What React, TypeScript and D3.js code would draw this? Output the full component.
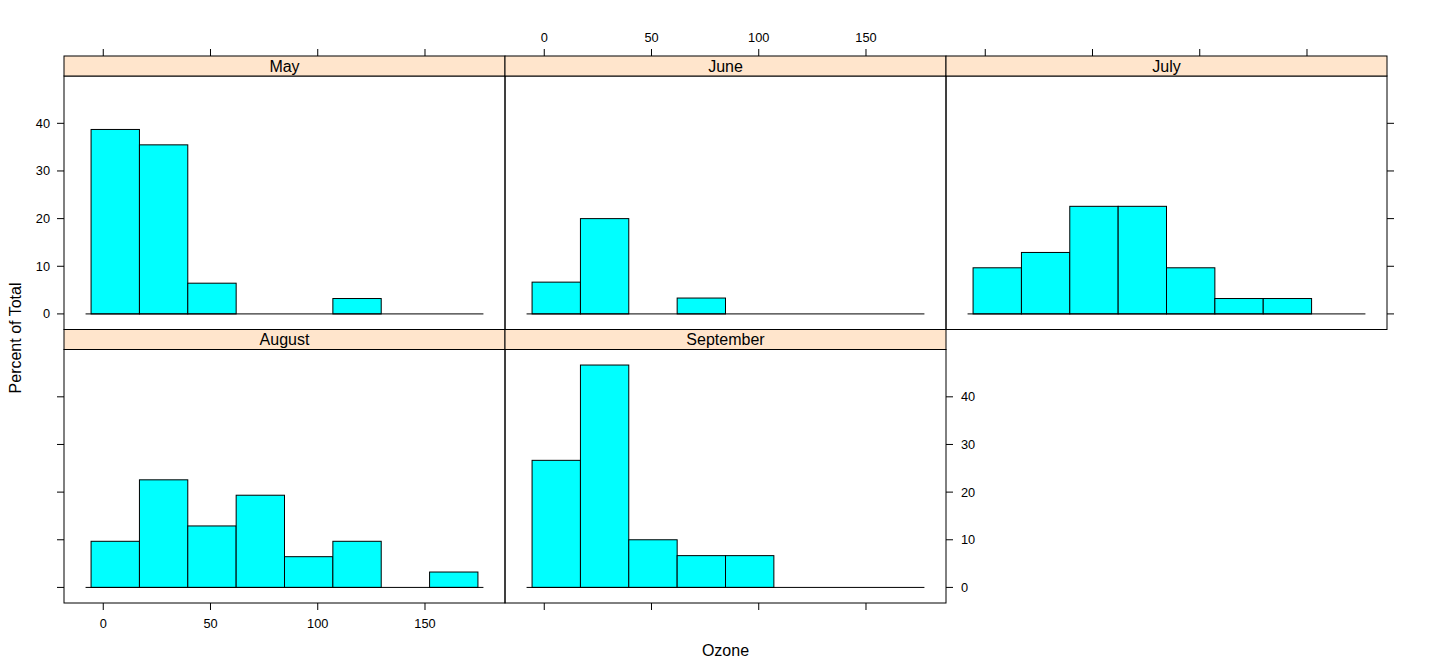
import React from 'react';
import * as d3 from 'd3';

// histogram breaks shared by every panel (Ozone)
const breaks = [-5.68, 16.87, 39.41, 61.96, 84.5, 107.05, 129.59, 152.14, 174.68];
const months = ['May', 'June', 'July', 'August', 'September'];

// percent of total per bin
const mayPct = [38.71, 35.48, 6.45, 0, 0, 3.23, 0, 0];
const junePct = [6.67, 20, 0, 3.33, 0, 0, 0, 0];
const julyPct = [9.68, 12.9, 22.58, 22.58, 9.68, 3.23, 3.23, 0];
const augustPct = [9.68, 22.58, 12.9, 19.35, 6.45, 9.68, 0, 3.23];
const septemberPct = [26.67, 46.67, 10, 6.67, 6.67, 0, 0, 0];

const xTicks = [0, 50, 100, 150];
const yTicks = [0, 10, 20, 30, 40];

const xDomain: [number, number] = [-18.3, 187.3];
const yDomain: [number, number] = [-3.27, 49.93];

const panels = [mayPct, junePct, julyPct, augustPct, septemberPct];

const font = '"Liberation Sans", Arial, Helvetica, sans-serif';
const left = 64, top = 56, colW = 441, stripH = 20, panelH = 253.5, tick = 7;

const App = () => {
  const cell = (i: number) => {
    const col = i % 3, row = Math.floor(i / 3);
    const x0 = left + col * colW;
    const y0 = top + row * (stripH + panelH);
    const x = d3.scaleLinear().domain(xDomain).range([x0, x0 + colW]);
    const y = d3.scaleLinear().domain(yDomain).range([y0 + stripH + panelH, y0 + stripH]);
    return { col, row, x0, y0, x, y };
  };

  return (
    <svg width={1440} height={672} style={{ position: 'absolute', left: 0, top: 0 }} fontFamily={font}>
      <rect width={1440} height={672} fill="#fff" />
      {panels.map((vals, i) => {
        const { col, row, x0, y0, x, y } = cell(i);
        const pTop = y0 + stripH, pBot = y0 + stripH + panelH;
        return (
          <g key={months[i]}>
            {/* bars */}
            {vals.map((v, j) => v > 0 && (
              <rect key={j} x={x(breaks[j])} y={y(v)} width={x(breaks[j + 1]) - x(breaks[j])}
                height={y(0) - y(v)} fill="#00ffff" stroke="#000" strokeWidth={1} />
            ))}
            <line x1={x(breaks[0]) - 5.5} x2={x(breaks[breaks.length - 1]) + 5.5} y1={y(0)} y2={y(0)}
              stroke="#000" strokeWidth={1} />
            {/* panel frame */}
            <rect x={x0} y={pTop} width={colW} height={panelH} fill="none" stroke="#000" strokeWidth={1} />
            {/* strip */}
            <rect x={x0} y={y0} width={colW} height={stripH} fill="#ffe5cc" stroke="#000" strokeWidth={1} />
            <text x={x0 + colW / 2} y={y0 + stripH / 2} dy="0.35em" textAnchor="middle" fontSize={16}>{months[i]}</text>

            {/* top axis (first row) */}
            {row === 0 && xTicks.map(t => (
              <g key={'t' + t}>
                <line x1={x(t)} x2={x(t)} y1={y0} y2={y0 - tick} stroke="#000" />
                {col === 1 && <text x={x(t)} y={y0 - 18} dy="0.35em" textAnchor="middle" fontSize={12.8}>{t}</text>}
              </g>
            ))}
            {/* bottom axis (last row) */}
            {row === 1 && xTicks.map(t => (
              <g key={'b' + t}>
                <line x1={x(t)} x2={x(t)} y1={pBot} y2={pBot + tick} stroke="#000" />
                {col === 0 && <text x={x(t)} y={pBot + 21} dy="0.35em" textAnchor="middle" fontSize={12.8}>{t}</text>}
              </g>
            ))}
            {/* left axis */}
            {col === 0 && yTicks.map(t => (
              <g key={'l' + t}>
                <line x1={x0} x2={x0 - tick} y1={y(t)} y2={y(t)} stroke="#000" />
                {row === 0 && <text x={x0 - 14} y={y(t)} dy="0.35em" textAnchor="end" fontSize={12.8}>{t}</text>}
              </g>
            ))}
            {/* right axis on the rightmost panel of each row */}
            {((row === 0 && col === 2) || (row === 1 && col === 1)) && yTicks.map(t => (
              <g key={'r' + t}>
                <line x1={x0 + colW} x2={x0 + colW + tick} y1={y(t)} y2={y(t)} stroke="#000" />
                {row === 1 && <text x={x0 + colW + 15} y={y(t)} dy="0.35em" textAnchor="start" fontSize={12.8}>{t}</text>}
              </g>
            ))}
          </g>
        );
      })}
      <text x={left + 1.5 * colW} y={650} dy="0.35em" textAnchor="middle" fontSize={16}>Ozone</text>
      <text transform="translate(15, 338) rotate(-90)" dy="0.35em"
        textAnchor="middle" fontSize={16}>Percent of Total</text>
    </svg>
  );
};

export default App;
